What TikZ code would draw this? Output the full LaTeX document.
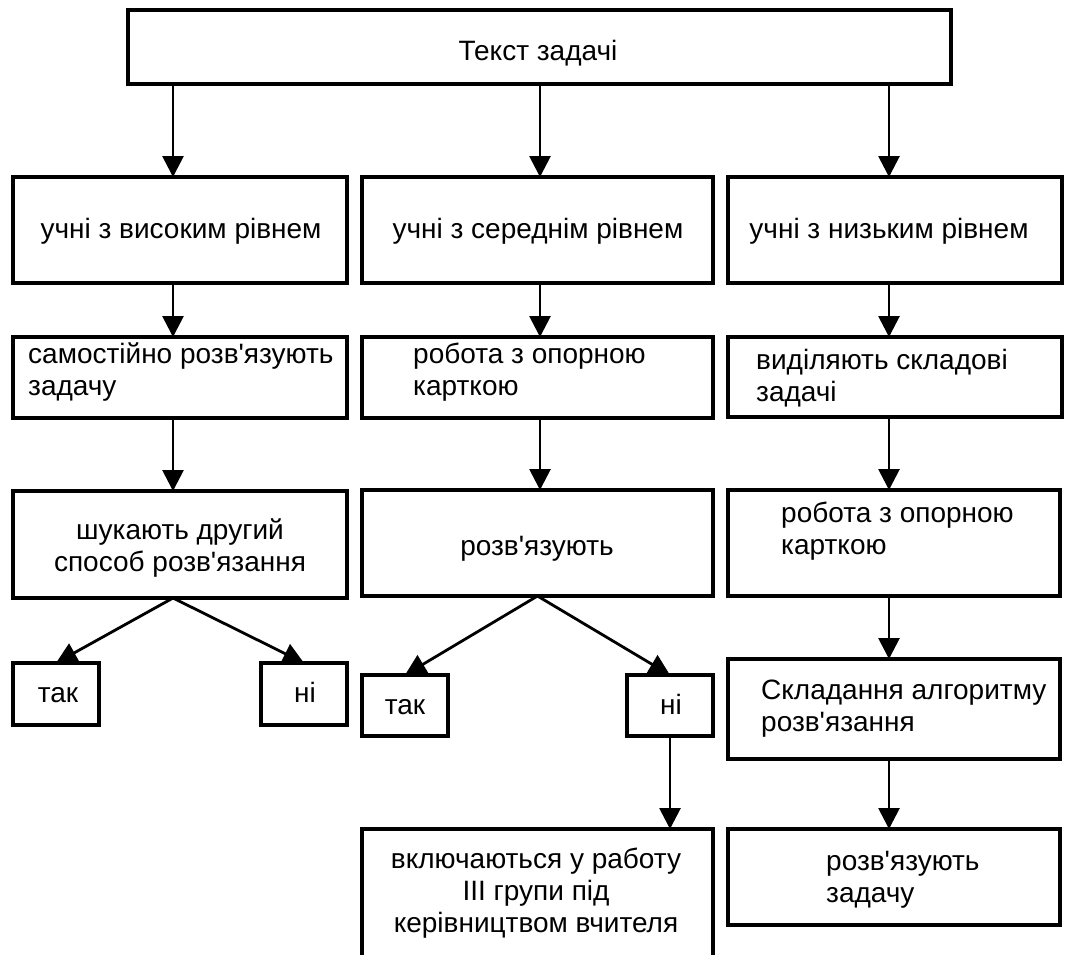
\documentclass[tikz,border=0pt]{standalone}
\usepackage{fontspec}
\newfontfamily\uafont{Liberation Sans}
\usetikzlibrary{arrows.meta}

\tikzset{
  box/.style={draw, line width=3.2pt, rectangle, inner sep=0pt, outer sep=0pt},
  arr/.style={line width=2.8pt, -{Triangle[length=21pt,width=21pt]}},
  lbl/.style={inner sep=0pt, font=\uafont\fontsize{28}{32}\selectfont},
}

% box by its pixel corners (x1,y1)-(x2,y2), y downwards
\newcommand\pxbox[5]{%
  \node[box, minimum width={(#4)-(#2)}, minimum height={(#5)-(#3)}]
    (#1) at ({((#2)+(#4))/2},{-((#3)+(#5))/2}) {};}

\begin{document}
\begin{tikzpicture}[x=1pt,y=1pt]
\clip (0,0) rectangle (1082,-954);
\fill[white] (0,0) rectangle (1082,-954);

% boxes
\pxbox{top}{128}{10}{951}{84}
\pxbox{L1}{13}{177}{347}{283}
\pxbox{M1}{362}{177}{713}{283}
\pxbox{R1}{728}{177}{1062}{283}
\pxbox{L2}{13}{337}{347}{418}
\pxbox{M2}{362}{337}{713}{418}
\pxbox{R2}{728}{337}{1062}{417}
\pxbox{L3}{13}{491}{347}{598}
\pxbox{M3}{362}{490}{713}{596}
\pxbox{R3}{728}{490}{1060}{596}
\pxbox{Ltak}{13}{663}{99}{725}
\pxbox{Lni}{261}{663}{347}{725}
\pxbox{Mtak}{362}{675}{448}{736}
\pxbox{Mni}{627}{675}{713}{736}
\pxbox{Mbot}{362}{829}{713}{1000}
\pxbox{R4}{728}{659}{1060}{759}
\pxbox{R5}{728}{829}{1060}{925}

% column axes of the vertical connectors
\coordinate (cL) at (173,0);
\coordinate (cM) at (540,0);
\coordinate (cR) at (889,0);

% texts (multi-line nodes are anchored at the baseline of their last line)
\node[lbl, anchor=base] at (538,-60) {Текст задачі};
\node[lbl, anchor=base] at (181,-238) {учні з високим рівнем};
\node[lbl, anchor=base] at (538,-238) {учні з середнім рівнем};
\node[lbl, anchor=base] at (889,-238) {учні з низьким рівнем};
\node[lbl, anchor=base west, align=left] at (28,-395) {самостійно розв'язують\\задачу};
\node[lbl, anchor=base west, align=left] at (413,-395) {робота з опорною\\карткою};
\node[lbl, anchor=base west, align=left] at (756,-401) {виділяють складові\\задачі};
\node[lbl, anchor=base, align=center] at (180,-571) {шукають другий\\способ розв'язання};
\node[lbl, anchor=base] at (537,-555) {розв'язують};
\node[lbl, anchor=base west, align=left] at (781,-554) {робота з опорною\\карткою};
\node[lbl, anchor=base] at (58,-702) {так};
\node[lbl, anchor=base] at (305,-702) {ні};
\node[lbl, anchor=base] at (405,-714) {так};
\node[lbl, anchor=base] at (671,-714) {ні};
\node[lbl, anchor=base west, align=left] at (761,-731) {Складання алгоритму\\розв'язання};
\node[lbl, anchor=base west, align=left] at (826,-902) {розв'язують\\задачу};
\node[lbl, anchor=base, align=center] at (536,-932) {включаються у работу\\III групи під\\керівництвом вчителя};

% connectors
\draw[arr] (top.south -| cL) -- (L1.north -| cL);
\draw[arr] (top.south -| cM) -- (M1.north -| cM);
\draw[arr] (top.south -| cR) -- (R1.north -| cR);
\draw[arr] (L1.south -| cL) -- (L2.north -| cL);
\draw[arr] (M1.south -| cM) -- (M2.north -| cM);
\draw[arr] (R1.south -| cR) -- (R2.north -| cR);
\draw[arr] (L2.south -| cL) -- (L3.north -| cL);
\draw[arr] (M2.south -| cM) -- (M3.north -| cM);
\draw[arr] (R2.south -| cR) -- (R3.north -| cR);
\draw[arr] (L3.south -| cL) -- (Ltak.north);
\draw[arr] (L3.south -| cL) -- (Lni.north);
\draw[arr] (M3.south) -- (Mtak.north);
\draw[arr] (M3.south) -- (Mni.north);
\draw[arr] (Mni.south) -- (Mbot.north -| Mni.south);
\draw[arr] (R3.south -| cR) -- (R4.north -| cR);
\draw[arr] (R4.south -| cR) -- (R5.north -| cR);
\end{tikzpicture}
\end{document}
